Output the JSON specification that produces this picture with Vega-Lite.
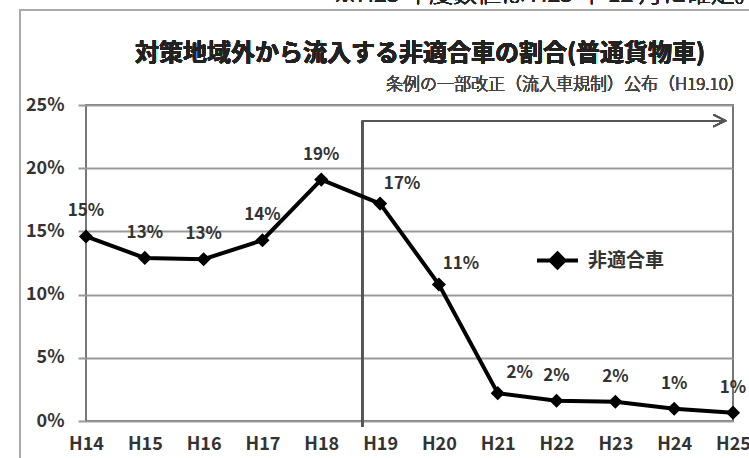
{
  "$schema": "https://vega.github.io/schema/vega-lite/v6.json",
  "width": 647,
  "height": 316,
  "autosize": "none",
  "padding": {"left": 86, "top": 105, "right": 16, "bottom": 37},
  "background": "white",
  "config": {
    "font": "Noto Sans CJK JP",
    "view": {"stroke": "#777", "strokeWidth": 2},
    "axis": {"labelFont": "Noto Sans CJK JP"}
  },
  "data": {
    "values": [
      {"year": 14, "share": 0.146, "series": "非適合車"},
      {"year": 15, "share": 0.129, "series": "非適合車"},
      {"year": 16, "share": 0.128, "series": "非適合車"},
      {"year": 17, "share": 0.143, "series": "非適合車"},
      {"year": 18, "share": 0.191, "series": "非適合車"},
      {"year": 19, "share": 0.172, "series": "非適合車"},
      {"year": 20, "share": 0.108, "series": "非適合車"},
      {"year": 21, "share": 0.022, "series": "非適合車"},
      {"year": 22, "share": 0.016, "series": "非適合車"},
      {"year": 23, "share": 0.0152, "series": "非適合車"},
      {"year": 24, "share": 0.0097, "series": "非適合車"},
      {"year": 25, "share": 0.0066, "series": "非適合車"}
    ]
  },
  "encoding": {
    "x": {
      "field": "year",
      "type": "quantitative",
      "scale": {"domain": [14, 25], "nice": false, "zero": false},
      "axis": {
        "title": null,
        "values": [14, 15, 16, 17, 18, 19, 20, 21, 22, 23, 24, 25],
        "labelExpr": "'H' + datum.value",
        "grid": false,
        "domain": false,
        "ticks": false,
        "labelFlush": false,
        "labelPadding": 14,
        "labelFontSize": 18,
        "labelFontWeight": "bold",
        "labelColor": "#333"
      }
    },
    "y": {
      "field": "share",
      "type": "quantitative",
      "scale": {"domain": [0, 0.25], "nice": false},
      "axis": {
        "title": null,
        "values": [0, 0.05, 0.1, 0.15, 0.2, 0.25],
        "format": ".0%",
        "grid": true,
        "gridColor": "#999",
        "gridWidth": 2,
        "domain": false,
        "tickColor": "#999",
        "tickWidth": 2,
        "tickSize": 8,
        "labelPadding": 14,
        "labelFontSize": 18,
        "labelFontWeight": "bold",
        "labelColor": "#333"
      }
    }
  },
  "layer": [
    {
      "mark": {"type": "rect", "fill": null, "stroke": "#aaa", "strokeWidth": 2},
      "encoding": {
        "x": {"datum": 12.878},
        "x2": {"datum": 26},
        "y": {"datum": 0.3252},
        "y2": {"datum": -0.05}
      }
    },
    {
      "mark": {"type": "text", "align": "left", "baseline": "alphabetic", "fontSize": 24, "fontWeight": 300, "color": "#222"},
      "encoding": {
        "x": {"datum": 18.2},
        "y": {"datum": 0.3316},
        "text": {"value": "※H25 年度数値は H25 年 12 月に確定。"}
      }
    },
    {
      "mark": {"type": "text", "align": "center", "baseline": "middle", "fontSize": 24, "fontWeight": "bold", "color": "#222"},
      "encoding": {
        "x": {"datum": 19.68},
        "y": {"datum": 0.2905},
        "text": {"value": "対策地域外から流入する非適合車の割合(普通貨物車)"}
      }
    },
    {
      "mark": {"type": "text", "align": "right", "baseline": "middle", "fontSize": 17, "fontWeight": 300, "color": "#444"},
      "encoding": {
        "x": {"datum": 25.2},
        "y": {"datum": 0.2655},
        "text": {"value": "条例の一部改正（流入車規制）公布（H19.10）"}
      }
    },
    {
      "mark": {"type": "rule", "color": "#555", "strokeWidth": 1.5},
      "encoding": {
        "x": {"datum": 18.7},
        "y": {"datum": -0.0047},
        "y2": {"datum": 0.2376}
      }
    },
    {
      "mark": {"type": "rule", "color": "#555", "strokeWidth": 1.5},
      "encoding": {
        "x": {"datum": 18.7},
        "x2": {"datum": 24.87},
        "y": {"datum": 0.2376}
      }
    },
    {
      "mark": {"type": "point", "shape": "M-2,-1L0,0L-2,1", "size": 144, "filled": false, "stroke": "#555", "strokeWidth": 1.5, "opacity": 1},
      "encoding": {
        "x": {"datum": 24.87},
        "y": {"datum": 0.2376}
      }
    },
    {
      "mark": {"type": "line", "color": "black", "strokeWidth": 4},
      "encoding": {}
    },
    {
      "mark": {"type": "point", "shape": "diamond", "filled": true, "size": 200, "opacity": 1},
      "encoding": {
        "color": {
          "field": "series",
          "type": "nominal",
          "scale": {"range": ["black"]},
          "legend": {
            "title": null,
            "orient": "none",
            "legendX": 449,
            "legendY": 133,
            "symbolType": "M-1,0L1,0M0,-0.34L0.34,0L0,0.34L-0.34,0Z",
            "symbolSize": 1681,
            "symbolStrokeColor": "black",
            "symbolStrokeWidth": 4,
            "symbolOpacity": 1,
            "labelFontSize": 19,
            "labelFontWeight": "bold",
            "labelColor": "#333",
            "labelOffset": 8
          }
        }
      }
    },
    {
      "transform": [{"filter": "datum.year < 19 || datum.year > 21"}],
      "mark": {"type": "text", "align": "center", "baseline": "middle", "dy": -25, "fontSize": 17, "fontWeight": "bold", "color": "#333"},
      "encoding": {
        "text": {"field": "share", "type": "quantitative", "format": ".0%"}
      }
    },
    {
      "transform": [{"filter": "datum.year >= 19 && datum.year <= 21"}],
      "mark": {"type": "text", "align": "center", "baseline": "middle", "dx": 22, "dy": -20, "fontSize": 17, "fontWeight": "bold", "color": "#333"},
      "encoding": {
        "text": {"field": "share", "type": "quantitative", "format": ".0%"}
      }
    }
  ]
}
